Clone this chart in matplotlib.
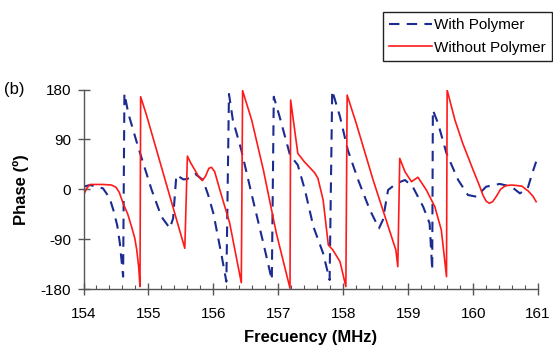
import matplotlib
matplotlib.use("Agg")
import matplotlib.pyplot as plt
from matplotlib.ticker import MultipleLocator

plt.rcParams["font.family"] = ["Liberation Sans", "DejaVu Sans"]
plt.rcParams["axes.unicode_minus"] = False

# phase of the resonance
with_x = [154.0, 154.1, 154.3, 154.4, 154.46, 154.52, 154.56, 154.61, 154.63, 154.69,
          154.84, 155.05, 155.2, 155.33, 155.38, 155.43, 155.54, 155.6, 155.72, 155.84,
          155.92, 156.0, 156.13, 156.2, 156.24, 156.3, 156.43, 156.61, 156.77, 156.9,
          156.93, 157.02, 157.18, 157.3, 157.41, 157.54, 157.69, 157.79, 157.83, 157.95,
          158.07, 158.23, 158.41, 158.55, 158.61, 158.69, 158.82, 158.95, 159.07, 159.23,
          159.33, 159.37, 159.38, 159.46, 159.59, 159.77, 159.92, 160.05, 160.2, 160.41,
          160.59, 160.72, 160.84, 160.91, 160.97]
with_y = [5, 8, 2, -15, -37, -65, -97, -157, 173, 137,
          77, -1, -49, -70, -52, 26, 18, 19, 28, 17,
          -10, -43, -121, -166, 172, 125, 71, -19, -97, -163,
          167, 131, 62, 44, -1, -67, -115, -163, 178, 131,
          71, 17, -37, -70, -55, -1, 11, 17, 5, -31,
          -61, -145, 143, 119, 65, 17, -10, -13, 5, 10,
          5, -7, 2, 29, 50]

without_x = [154.0, 154.05, 154.1, 154.3, 154.43, 154.5, 154.55, 154.61, 154.68, 154.74,
             154.79, 154.82, 154.85, 154.87, 154.88, 154.97, 155.56, 155.6, 155.65, 155.72,
             155.78, 155.83, 155.88, 155.93, 155.97, 156.02, 156.1, 156.25, 156.43, 156.45,
             156.59, 156.77, 156.97, 157.18, 157.19, 157.3, 157.4, 157.48, 157.56, 157.61,
             157.69, 157.77, 157.84, 157.95, 158.04, 158.06, 158.2, 158.46, 158.66, 158.81,
             158.84, 158.87, 158.95, 159.05, 159.1, 159.15, 159.28, 159.41, 159.51, 159.59,
             159.6, 159.72, 159.84, 160.0, 160.1, 160.15, 160.2, 160.25, 160.3, 160.36,
             160.42, 160.5, 160.6, 160.75, 160.85, 160.92, 160.97]
without_y = [-10, 2, 9, 9, 8, 4, -5, -25, -44, -67,
             -88, -109, -140, -175, 167, 134, -106, 60, 48, 34,
             22, 16, 24, 38, 40, 32, -1, -60, -168, 178,
             125, 35, -79, -178, 161, 65, 50, 40, 30, 20,
             -19, -100, -109, -130, -175, 170, 119, 17, -55, -109,
             -139, 56, 32, 14, 18, 22, -1, -31, -73, -157,
             179, 125, 83, 35, 6, -10, -21, -25, -22, -12,
             0, 7, 8, 6, -3, -12, -22]

x_ticks = [154, 155, 156, 157, 158, 159, 160, 161]
y_ticks = [180, 90, 0, -90, -180]

fig = plt.figure(figsize=(5.53, 3.47), dpi=100)
ax = fig.add_axes([0.151, 0.166, 0.822, 0.576])

ax.plot(with_x, with_y, color="#1c2b8f", lw=1.5, dashes=(5, 3.5), label="With Polymer")
ax.plot(without_x, without_y, color="#ff1a1a", lw=1.2, label="Without Polymer")

ax.set_xlim(154, 161)
ax.set_ylim(-180, 180)
ax.set_xticks(x_ticks)
ax.set_yticks(y_ticks)
ax.xaxis.set_minor_locator(MultipleLocator(0.2))
for s in ("top", "right"):
    ax.spines[s].set_visible(False)
for s in ("left", "bottom"):
    ax.spines[s].set_color("#555555")
    ax.spines[s].set_linewidth(1.0)
ax.tick_params(which="major", direction="inout", length=8, width=1.0, color="#555555",
               labelsize=11, pad=5)
ax.tick_params(axis="x", which="major", pad=9)
ax.tick_params(which="minor", direction="in", length=3, width=0.8, color="#555555")
ax.set_xlabel("Frecuency (MHz)", fontsize=12, fontweight="bold", labelpad=6)
ax.set_ylabel("Phase (º)", fontsize=12, fontweight="bold", labelpad=8)

fig.text(0.008, 0.742, "(b)", fontsize=12, va="center")

fig.legend(loc="upper left", bbox_to_anchor=(0.6926, 0.9654), borderaxespad=0,
           fontsize=11, frameon=True, fancybox=False, edgecolor="#222222", framealpha=1,
           handlelength=2.8, borderpad=0.4, labelspacing=0.55, handletextpad=0.15)

fig.savefig("out.png", dpi=100)
